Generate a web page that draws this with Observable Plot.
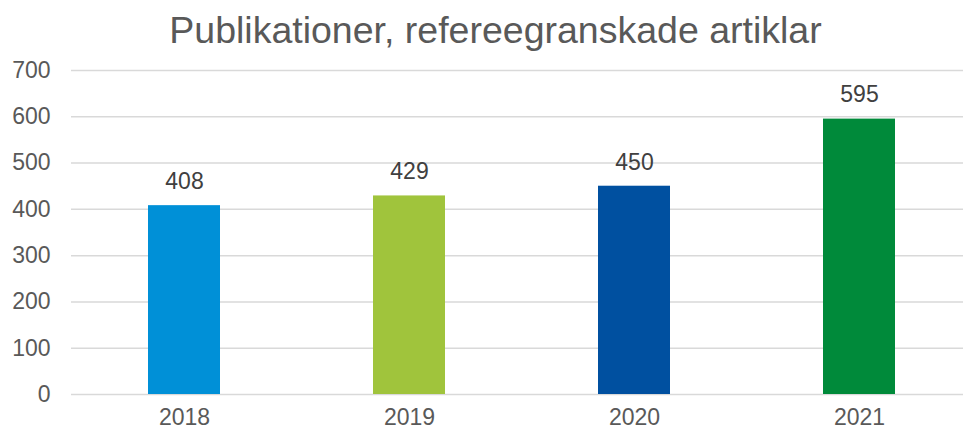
<!DOCTYPE html>
<html><head><meta charset="utf-8">
<script src="https://cdn.jsdelivr.net/npm/d3@7"></script>
<script src="https://cdn.jsdelivr.net/npm/@observablehq/plot@0.6"></script>
<style>
body{margin:0;background:#fff;overflow:hidden;}
#title{position:absolute;top:0;left:0;height:60px;width:963px;box-sizing:border-box;padding-left:28px;text-align:center;font-family:"Liberation Sans",Arial,sans-serif;font-size:37.5px;color:#595959;line-height:60px;white-space:nowrap;}
#chart{position:absolute;top:0;left:0;}
</style></head>
<body>
<div id="chart"></div>
<div id="title">Publikationer, refereegranskade artiklar</div>
<script>
const years = ["2018", "2019", "2020", "2021"];
const values = [408, 429, 450, 595];
const colors = ["#0090d7", "#a0c43c", "#0050a0", "#008a3a"];
const yTicks = [0, 100, 200, 300, 400, 500, 600, 700];

const data = years.map((y, i) => ({year: y, value: values[i], color: colors[i]}));

const chart = Plot.plot({
  width: 963,
  height: 434,
  marginTop: 70,
  marginBottom: 40,
  marginLeft: 71,
  marginRight: 0,
  style: {fontFamily: "'Liberation Sans', Arial, sans-serif", fontSize: "23px", color: "#595959", background: "transparent"},
  x: {domain: years, range: [71, 971], paddingInner: 0.68, paddingOuter: 0.34, label: null},
  y: {domain: [0, 700], label: null},
  marks: [
    Plot.ruleY(yTicks, {stroke: "#d9d9d9", strokeWidth: 1.5}),
    Plot.barY(data, {x: "year", y: "value", fill: "color"}),
    Plot.text(data, {x: "year", y: "value", text: d => String(d.value), dy: -24, fill: "#404040", fontSize: 23}),
    Plot.axisY({ticks: yTicks, tickSize: 0, tickPadding: 21, fontSize: 23, fill: "#595959", label: null}),
    Plot.axisX({tickSize: 0, tickPadding: 14, fontSize: 23, fill: "#595959", label: null})
  ]
});
document.getElementById("chart").appendChild(chart);
</script>
</body></html>
